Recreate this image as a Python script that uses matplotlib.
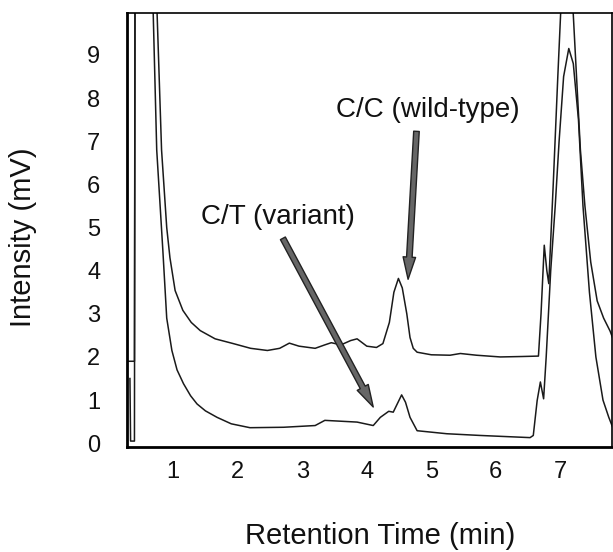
import numpy as np
import matplotlib.pyplot as plt

plt.rcParams['font.family'] = ['Liberation Sans', 'DejaVu Sans']

# Retention time (min) / intensity (mV)
wt_time = [0.28, 0.40, 0.41, 0.75, 0.82, 0.90, 0.95, 1.03, 1.15, 1.28, 1.42, 1.65,
           1.93, 2.20, 2.46, 2.65, 2.80, 2.95, 3.20, 3.35, 3.45, 3.60, 3.75, 3.85,
           4.00, 4.15, 4.25, 4.35, 4.42, 4.49, 4.55, 4.62, 4.67, 4.72, 4.78, 5.00,
           5.29, 5.45, 5.70, 6.07, 6.40, 6.66, 6.70, 6.75, 6.79, 6.82, 6.89, 6.96,
           7.02, 7.10, 7.18, 7.25, 7.31, 7.38, 7.47, 7.57, 7.67, 7.77, 7.82]
wt_signal = [1.90, 1.90, 12.0, 10.0, 6.80, 5.00, 4.30, 3.54, 3.08, 2.80, 2.61, 2.42,
             2.31, 2.20, 2.15, 2.20, 2.32, 2.25, 2.20, 2.28, 2.33, 2.28, 2.38, 2.42,
             2.25, 2.22, 2.31, 2.80, 3.50, 3.82, 3.60, 3.00, 2.45, 2.20, 2.11, 2.05,
             2.04, 2.08, 2.04, 2.00, 2.01, 2.02, 3.00, 4.59, 4.00, 3.70, 6.03, 8.50,
             10.5, 11.5, 10.5, 8.50, 6.80, 5.50, 4.20, 3.30, 2.90, 2.60, 2.40]

var_time = [0.33, 0.34, 0.40, 0.41, 0.69, 0.745, 0.84, 0.90, 0.98, 1.06, 1.16, 1.27,
            1.37, 1.50, 1.68, 1.90, 2.19, 2.71, 3.20, 3.35, 3.85, 4.10, 4.21, 4.34,
            4.41, 4.54, 4.60, 4.67, 4.78, 5.24, 5.76, 6.53, 6.58, 6.64, 6.69, 6.74,
            6.78, 6.85, 6.92, 6.98, 7.05, 7.13, 7.20, 7.28, 7.35, 7.45, 7.55, 7.66,
            7.75, 7.81]
var_signal = [1.50, 0.05, 0.05, 12.0, 10.0, 6.80, 4.47, 2.90, 2.15, 1.70, 1.38, 1.10,
              0.91, 0.75, 0.60, 0.45, 0.36, 0.37, 0.41, 0.53, 0.49, 0.41, 0.60, 0.74,
              0.72, 1.12, 0.95, 0.60, 0.29, 0.22, 0.18, 0.13, 0.18, 0.99, 1.42, 1.03,
              2.00, 4.00, 5.50, 7.00, 8.50, 9.15, 8.80, 7.50, 5.50, 3.50, 2.00, 1.00,
              0.60, 0.37]

x_ticks = [1, 2, 3, 4, 5, 6, 7]
y_ticks = [0, 1, 2, 3, 4, 5, 6, 7, 8, 9]

fig = plt.figure(figsize=(6.13, 5.52), dpi=100)
ax = fig.add_axes([0.2067, 0.1908, 0.7917, 0.7862])

ax.plot(wt_time, wt_signal, color='#1a1a1a', lw=1.1)
ax.plot(var_time, var_signal, color='#1a1a1a', lw=1.1)

ax.set_xlim(0.28, 7.80)
ax.set_ylim(-0.08, 9.98)
ax.set_xticks(x_ticks)
ax.set_yticks(y_ticks)
ax.tick_params(axis='both', length=0, labelsize=17, colors='#111')
ax.tick_params(axis='y', pad=19)
ax.tick_params(axis='x', pad=10)

for side in ['left', 'bottom']:
    ax.spines[side].set_linewidth(2.0)
for side in ['top', 'right']:
    ax.spines[side].set_linewidth(1.2)

arrow_style = dict(arrowstyle='simple,head_length=0.8,head_width=0.45,tail_width=0.2',
                   fc='#666666', ec='#222222', lw=1.0, shrinkA=0, shrinkB=0,
                   mutation_scale=20)
ax.annotate('', xy=(4.64, 3.80), xytext=(4.77, 7.23), arrowprops=arrow_style)
ax.annotate('', xy=(4.10, 0.84), xytext=(2.70, 4.75), arrowprops=arrow_style)

ax.text(4.95, 7.72, 'C/C (wild-type)', fontsize=20, ha='center', va='center', color='#111')
ax.text(2.62, 5.24, 'C/T (variant)', fontsize=20, ha='center', va='center', color='#111')

fig.text(380 / 613, 1 - 536 / 552, 'Retention Time (min)', fontsize=21,
         ha='center', va='center', color='#111')
fig.text(23 / 613, 1 - 237 / 552, 'Intensity (mV)', fontsize=21, rotation=90,
         ha='center', va='center', color='#111')

fig.savefig('out.png', dpi=100)
